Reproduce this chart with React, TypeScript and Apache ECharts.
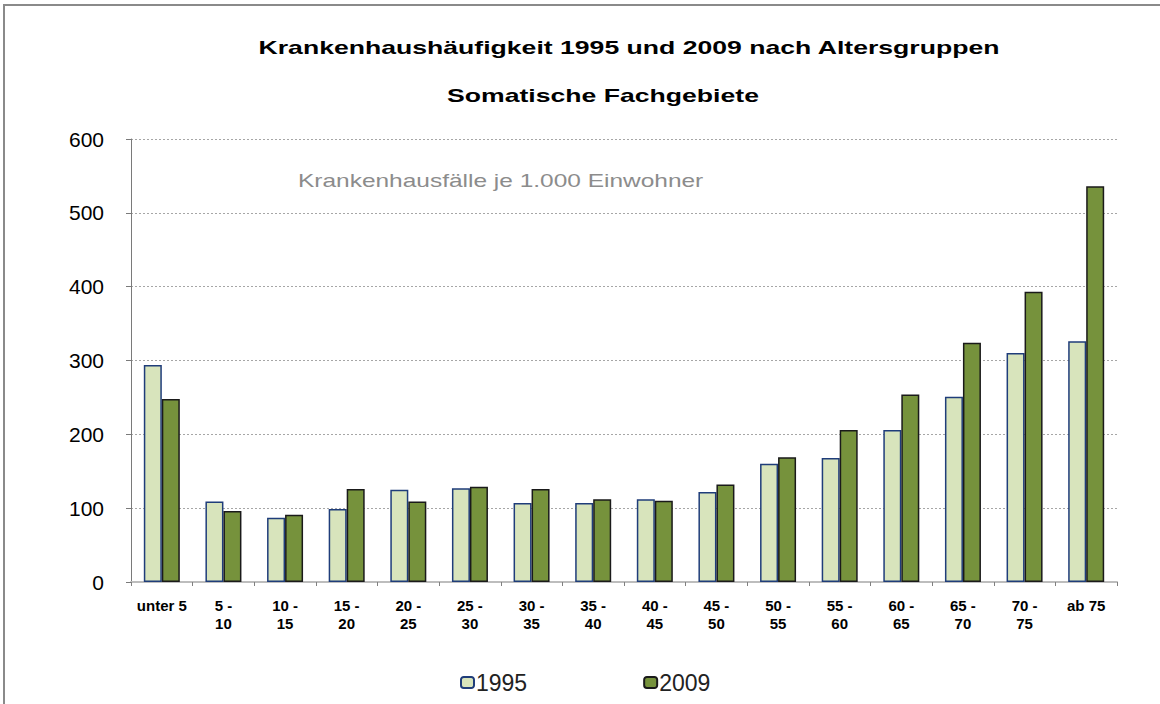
import React, { useEffect, useRef } from "react";
import * as echarts from "echarts";

const categories = [
  "unter 5", "5 -\n10", "10 -\n15", "15 -\n20", "20 -\n25", "25 -\n30", "30 -\n35", "35 -\n40",
  "40 -\n45", "45 -\n50", "50 -\n55", "55 -\n60", "60 -\n65", "65 -\n70", "70 -\n75", "ab 75",
];
const values1995 = [294, 109, 87, 99, 125, 127, 107, 107, 112, 122, 160, 168, 206, 251, 310, 326];
const values2009 = [248, 96, 91, 126, 109, 129, 126, 112, 110, 132, 169, 206, 254, 324, 393, 536];
const seriesNames = ["1995", "2009"];
const titleText = "Krankenhaushäufigkeit 1995 und 2009 nach Altersgruppen";
const subtitleText = "Somatische Fachgebiete";
const noteText = "Krankenhausfälle je 1.000 Einwohner";

export default function App() {
  const ref = useRef<HTMLDivElement>(null);
  useEffect(() => {
    if (!ref.current) return;
    const chart = echarts.init(ref.current, null, { renderer: "svg" });
    const font = "'Liberation Sans', Arial, sans-serif";
    chart.setOption({
      animation: false,
      backgroundColor: "#ffffff",
      textStyle: { fontFamily: font },
      grid: { left: 131, right: 43, top: 139, bottom: 122 },
      legend: {
        data: seriesNames,
        left: 455,
        top: 666,
        itemWidth: 13,
        itemHeight: 11,
        itemGap: 116,
        textStyle: { fontSize: 23, color: "#222", fontFamily: font, padding: [0, 0, 0, -3] },
      },
      graphic: [
        {
          type: "rect",
          silent: true,
          z: -10,
          shape: { x: 4, y: 5, width: 1300, height: 900 },
          style: { fill: "none", stroke: "#8a8a8a", lineWidth: 2 },
        },
        {
          type: "text",
          x: 629,
          y: 47,
          scaleX: 1.4,
          style: {
            text: titleText,
            fontSize: 19,
            fontWeight: "bold",
            fontFamily: font,
            fill: "#000",
            textAlign: "center",
            textVerticalAlign: "middle",
          },
        },
        {
          type: "text",
          x: 603,
          y: 95,
          scaleX: 1.4,
          style: {
            text: subtitleText,
            fontSize: 19,
            fontWeight: "bold",
            fontFamily: font,
            fill: "#000",
            textAlign: "center",
            textVerticalAlign: "middle",
          },
        },
        {
          type: "text",
          x: 298,
          y: 181,
          scaleX: 1.36,
          style: {
            text: noteText,
            fontSize: 18,
            fontFamily: font,
            fill: "#8c8c8c",
            textAlign: "left",
            textVerticalAlign: "middle",
          },
        },
      ],
      xAxis: {
        type: "category",
        data: categories,
        axisLine: { show: true, lineStyle: { color: "#bdbdbd", width: 2 } },
        axisTick: { show: true, length: 4, lineStyle: { color: "#808080" } },
        axisLabel: {
          interval: 0,
          fontSize: 15,
          fontWeight: "bold",
          lineHeight: 18,
          color: "#000",
          margin: 14,
          fontFamily: font,
        },
      },
      yAxis: {
        type: "value",
        min: 0,
        max: 600,
        interval: 100,
        axisLine: { show: true, lineStyle: { color: "#7a7a7a", width: 1 } },
        axisTick: { show: true, length: 5, lineStyle: { color: "#7a7a7a" } },
        axisLabel: { fontSize: 21, color: "#000", margin: 27, fontFamily: font },
        splitLine: { show: true, lineStyle: { color: "#a6a6a6", type: [2, 2], width: 1 } },
      },
      series: [
        {
          name: seriesNames[0],
          type: "bar",
          data: values1995,
          barWidth: 18,
          barGap: "0%",
          itemStyle: { color: "#d8e4bc", borderColor: "#1f3d7a", borderWidth: 1.5 },
        },
        {
          name: seriesNames[1],
          type: "bar",
          data: values2009,
          barWidth: 18,
          barGap: "0%",
          itemStyle: { color: "#76923c", borderColor: "#1a1a1a", borderWidth: 1.5 },
        },
      ],
    });
    return () => chart.dispose();
  }, []);
  return (
    <div
      ref={ref}
      style={{ position: "absolute", left: 0, top: 0, width: 1160, height: 704 }}
    />
  );
}
